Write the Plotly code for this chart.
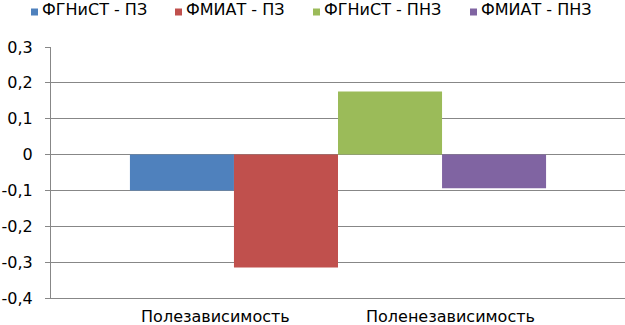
import plotly.graph_objects as go

series_names = ["ФГНиСТ - ПЗ", "ФМИАТ - ПЗ", "ФГНиСТ - ПНЗ", "ФМИАТ - ПНЗ"]
series_values = [-0.1, -0.315, 0.176, -0.094]
colors = ["#4F81BD", "#C0504D", "#9BBB59", "#8064A2"]
category_labels = ["Полезависимость", "Поленезависимость"]
y_tick_values = [-0.4, -0.3, -0.2, -0.1, 0, 0.1, 0.2, 0.3]
y_tick_labels = ["-0,4", "-0,3", "-0,2", "-0,1", "0", "0,1", "0,2", "0,3"]

W, H = 625, 325
ML, MR, MT, MB = 51, 0, 47, 27
PW, PH = W - ML - MR, H - MT - MB

def px_x(px):
    return (px - ML) / PW

def px_y(py):
    return (H - MB - py) / PH

category = ("\u00a0" * 15).join(category_labels)

FONT = "DejaVu Sans"
fig = go.Figure()
for name, val, col in zip(series_names, series_values, colors):
    fig.add_trace(go.Bar(x=[category], y=[val], name=name, marker_color=col,
                         marker_line_width=0, showlegend=False))

# legend drawn as squares + labels (Excel-style compact legend)
legend_square_x = [31, 175, 313, 470]
for name, col, sx in zip(series_names, colors, legend_square_x):
    fig.add_shape(type="rect", xref="paper", yref="paper",
                  x0=px_x(sx), x1=px_x(sx + 7), y0=px_y(15.5), y1=px_y(8.5),
                  fillcolor=col, line_width=0)
    fig.add_annotation(xref="paper", yref="paper", x=px_x(sx + 9), y=px_y(9.5),
                       xanchor="left", yanchor="middle", text=name, showarrow=False,
                       font=dict(family=FONT, size=16, color="#000000"))

fig.update_layout(
    width=W, height=H,
    margin=dict(l=ML, r=MR, t=MT, b=MB, autoexpand=False),
    paper_bgcolor="white", plot_bgcolor="white",
    barmode="group", bargap=0.275, bargroupgap=0,
    font=dict(family=FONT, size=16, color="#000000"),
    showlegend=False,
)
fig.update_yaxes(range=[-0.4, 0.3], tickvals=y_tick_values, ticktext=y_tick_labels,
                 showgrid=True, gridcolor="#878787", gridwidth=1,
                 zeroline=False, showline=True, linecolor="#878787", linewidth=1,
                 ticks="outside", ticklen=5, tickcolor="#878787",
                 tickfont=dict(size=16), ticklabelstandoff=9, automargin=False)
fig.update_xaxes(showline=True, linecolor="#878787", linewidth=1, ticks="",
                 tickfont=dict(size=16), showgrid=False, automargin=False,
                 ticklabelstandoff=4)

fig.write_html("out.html", config={"displayModeBar": False},
               post_script="document.body.style.margin='0';document.body.style.overflow='hidden';")
